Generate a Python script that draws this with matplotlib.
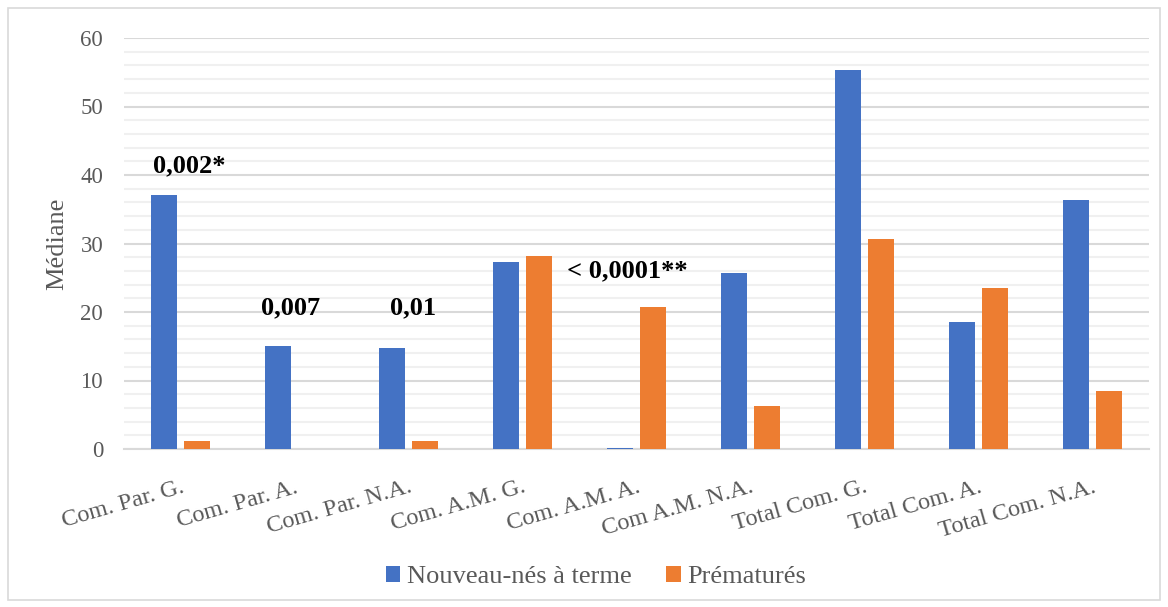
"""Median comparison chart: term newborns vs preterm."""
import numpy as np
import matplotlib.pyplot as plt
from matplotlib.patches import Rectangle

categories = ['Com. Par. G.', 'Com. Par. A.', 'Com. Par. N.A.', 'Com. A.M. G.',
              'Com. A.M. A.', 'Com A.M. N.A.', 'Total Com. G.', 'Total Com. A.',
              'Total Com. N.A.']
terme = [37.1, 15.1, 14.8, 27.3, 0.2, 25.7, 55.3, 18.5, 36.4]
prematures = [1.1, 0.0, 1.1, 28.2, 20.8, 6.3, 30.6, 23.5, 8.4]
series_names = ['Nouveau-nés à terme', 'Prématurés']

# p-value labels: text, category position, y baseline
pvals = ['0,002*', '0,007', '0,01', '< 0,0001**']
pval_x = [0.07, 0.96, 2.04, 3.92]
pval_y = [40.4, 19.6, 19.6, 25.1]

plt.rcParams['font.family'] = ['Liberation Serif', 'DejaVu Serif']
grey = '#595959'

fig = plt.figure(figsize=(11.68, 6.07), dpi=100)
ax = fig.add_axes([124 / 1168, 1 - 449 / 607, 1025 / 1168, 411 / 607])

# light frame around the whole chart
fig.patches.append(Rectangle((8 / 1168, 7 / 607), 1152 / 1168, 592 / 607,
                             transform=fig.transFigure, fill=False,
                             edgecolor='#d9d9d9', lw=1.2))

x = np.arange(len(categories))
w = 0.228
ax.bar(x - 0.145, terme, w, color='#4472C4', label=series_names[0], zorder=3)
ax.bar(x + 0.145, prematures, w, color='#ED7D31', label=series_names[1], zorder=3)

ax.set_xlim(-0.5, len(categories) - 0.5)
ax.set_ylim(0, 60)
ax.set_yticks(np.arange(0, 61, 10))
ax.set_yticks(np.arange(0, 61, 2), minor=True)
ax.grid(axis='y', which='major', color='#d9d9d9', lw=1.5, zorder=1)
ax.grid(axis='y', which='minor', color='#f0f0f0', lw=1.5, zorder=0)
ax.set_axisbelow(True)
for s in ['top', 'right', 'left']:
    ax.spines[s].set_visible(False)
ax.spines['bottom'].set_color('#d9d9d9')
ax.spines['bottom'].set_linewidth(1.5)

ax.tick_params(axis='y', which='both', length=0, pad=15, labelsize=16.5,
               labelcolor=grey)
ax.tick_params(axis='x', length=0, pad=20, labelsize=17.5, labelcolor=grey)
ax.set_xticks(x)
ax.set_xticklabels(categories, rotation=16, ha='right', rotation_mode='anchor')
ax.set_ylabel('Médiane', fontsize=19, color=grey, labelpad=9)

for txt, px, py in zip(pvals, pval_x, pval_y):
    ax.text(px, py, txt, ha='center', va='baseline', fontsize=19,
            fontweight='bold', color='black')

fig.legend(loc='center', bbox_to_anchor=(596 / 1168, 1 - 577 / 607), ncol=2,
           frameon=False, fontsize=19, labelcolor=grey, handlelength=0.55,
           handleheight=0.55, handletextpad=0.25, columnspacing=1.3)

fig.savefig('out.png', dpi=100)
